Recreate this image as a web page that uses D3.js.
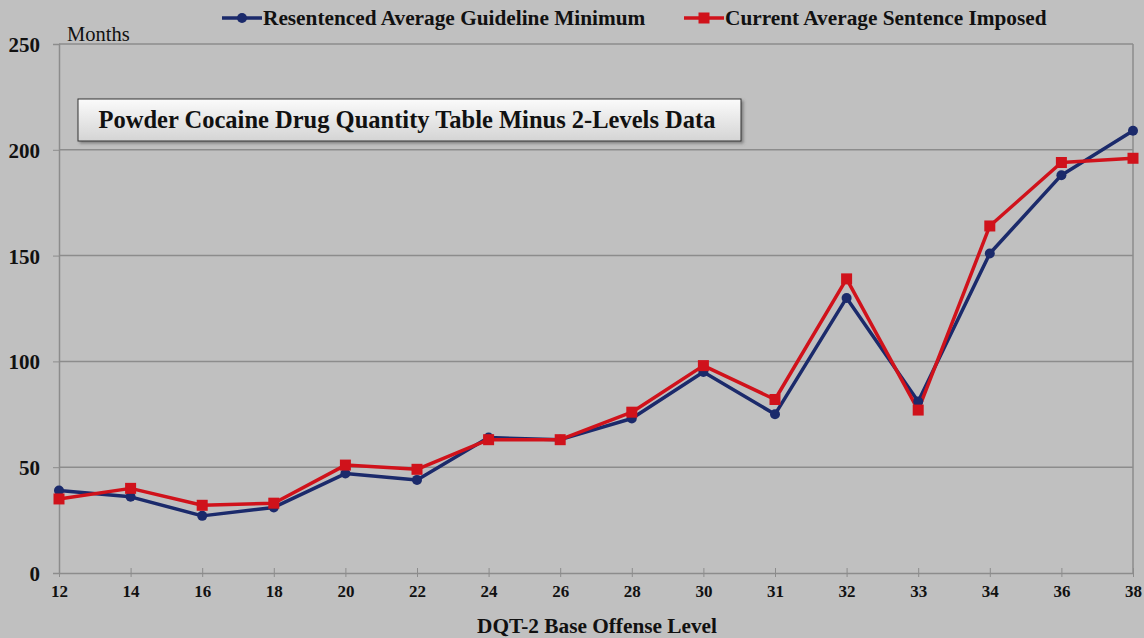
<!DOCTYPE html>
<html><head><meta charset="utf-8">
<script src="https://cdn.jsdelivr.net/npm/d3@7"></script>
<style>html,body{margin:0;padding:0;background:#c0c0c0;}svg{display:block;}</style>
</head><body>
<svg id="chart" width="1144" height="638"></svg>
<script>
const levels = ["12","14","16","18","20","22","24","26","28","30","31","32","33","34","36","38"];
const resentenced = [39,36,27,31,47,44,64,63,73,95,75,130,81,151,188,209];
const current = [35,40,32,33,51,49,63,63,76,98,82,139,77,164,194,196];
const yTicks = [0,50,100,150,200,250];
const seriesNames = ["Resentenced Average Guideline Minimum","Current Average Sentence Imposed"];
const colors = ["#1b2a6b","#d0121b"];

const svg = d3.select("#chart");
const font = "'Liberation Serif','Times New Roman',serif";
const L = 59, R = 1133, T = 44, B = 573;
const x = d3.scalePoint().domain(levels).range([L, R]);
const y = d3.scaleLinear().domain([0,250]).range([B, T]);

svg.append("rect").attr("width",1144).attr("height",638).attr("fill","#c0c0c0");

// gridlines
svg.append("g").selectAll("line").data(yTicks.filter(d=>d>0)).join("line")
  .attr("x1",L).attr("x2",R).attr("y1",d=>y(d)).attr("y2",d=>y(d))
  .attr("stroke","#8c8c8c").attr("stroke-width",1.5);
// right border
svg.append("line").attr("x1",R).attr("x2",R).attr("y1",T).attr("y2",B).attr("stroke","#8c8c8c").attr("stroke-width",1.5);

// y axis
const yAxis = svg.append("g").attr("transform",`translate(${L},0)`)
  .call(d3.axisLeft(y).tickValues(yTicks).tickSize(6).tickPadding(13));
yAxis.select(".domain").attr("stroke","#8c8c8c").attr("stroke-width",1.5);
yAxis.selectAll(".tick line").attr("stroke","#8c8c8c");
yAxis.selectAll("text").attr("font-family",font).attr("font-weight","bold").attr("font-size",21).attr("fill","#111").attr("dy","0.36em");

// x axis
const xAxis = svg.append("g").attr("transform",`translate(0,${B})`)
  .call(d3.axisBottom(x).tickSize(0).tickPadding(12));
xAxis.select(".domain").attr("stroke","#8c8c8c").attr("stroke-width",1.5);
xAxis.selectAll(".tick line").remove();
xAxis.selectAll(".tick").append("line").attr("y1",-5).attr("y2",4).attr("stroke","#8c8c8c");
xAxis.selectAll("text").attr("font-family",font).attr("font-weight","bold").attr("font-size",17).attr("fill","#111");

// Months label
svg.append("text").attr("x",67).attr("y",41).attr("font-family",font).attr("font-size",20.5).attr("fill","#111").text("Months");

// x title
svg.append("text").attr("x",597).attr("y",633).attr("text-anchor","middle")
  .attr("font-family",font).attr("font-weight","bold").attr("font-size",21.3).attr("fill","#111")
  .text("DQT-2 Base Offense Level");

// lines
const data = [resentenced, current];
const line = d3.line().x((d,i)=>x(levels[i])).y(d=>y(d));
data.forEach((s,k)=>{
  svg.append("path").datum(s).attr("d",line).attr("fill","none")
    .attr("stroke",colors[k]).attr("stroke-width",3.5).attr("stroke-linejoin","round");
});
// markers
svg.append("g").selectAll("circle").data(resentenced).join("circle")
  .attr("cx",(d,i)=>x(levels[i])).attr("cy",d=>y(d)).attr("r",5).attr("fill",colors[0]);
svg.append("g").selectAll("rect").data(current).join("rect")
  .attr("x",(d,i)=>x(levels[i])-5.5).attr("y",d=>y(d)-5.5).attr("width",11).attr("height",11).attr("fill",colors[1]);

// title box
const defs = svg.append("defs");
const g = defs.append("linearGradient").attr("id","tb").attr("x1",0).attr("y1",0).attr("x2",0).attr("y2",1);
g.append("stop").attr("offset","0%").attr("stop-color","#fbfbfb");
g.append("stop").attr("offset","100%").attr("stop-color","#d4d4d4");
const f = defs.append("filter").attr("id","sh").attr("x","-5%").attr("y","-30%").attr("width","110%").attr("height","160%");
f.append("feDropShadow").attr("dx",2).attr("dy",2).attr("stdDeviation",1.5).attr("flood-color","#555").attr("flood-opacity",0.6);
svg.append("rect").attr("x",78).attr("y",99).attr("width",663).attr("height",42)
  .attr("fill","url(#tb)").attr("stroke","#333").attr("stroke-width",1).attr("filter","url(#sh)");
svg.append("text").attr("x",407).attr("y",128).attr("text-anchor","middle")
  .attr("font-family",font).attr("font-weight","bold").attr("font-size",24.5).attr("fill","#111")
  .text("Powder Cocaine Drug Quantity Table Minus 2-Levels Data");

// legend
const legX = [222, 684];
seriesNames.forEach((n,k)=>{
  const lg = svg.append("g").attr("transform",`translate(${legX[k]},18)`);
  lg.append("line").attr("x1",0).attr("x2",40).attr("stroke",colors[k]).attr("stroke-width",3.5);
  if(k===0) lg.append("circle").attr("cx",20).attr("r",5).attr("fill",colors[k]);
  else lg.append("rect").attr("x",14.5).attr("y",-5.5).attr("width",11).attr("height",11).attr("fill",colors[k]);
  lg.append("text").attr("x",41).attr("y",7).attr("font-family",font).attr("font-weight","bold")
    .attr("font-size",21.3).attr("fill","#111").text(n);
});
</script>
</body></html>
